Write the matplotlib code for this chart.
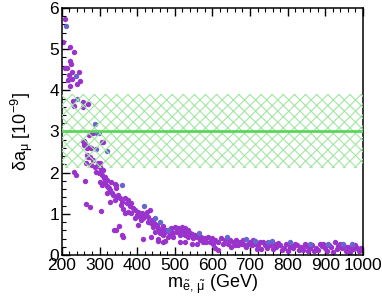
import matplotlib
matplotlib.use("Agg")
import matplotlib.pyplot as plt
from matplotlib.ticker import MultipleLocator

plt.rcParams["font.family"] = ["Liberation Sans", "DejaVu Sans"]
plt.rcParams["mathtext.fontset"] = "custom"
plt.rcParams["mathtext.rm"] = "Liberation Sans"
plt.rcParams["mathtext.it"] = "Liberation Sans"
plt.rcParams["hatch.linewidth"] = 0.8

# scan points (slepton mass in GeV, delta a_mu in 1e-9)
purple_m = [
    207, 202, 221, 232, 221, 225, 207, 214, 228, 246, 218, 228, 216, 249, 240, 221,
    230, 256, 269, 233, 255,
    282, 273, 306, 258, 262, 308, 255, 258, 271, 268, 278,
    267, 274, 270, 284, 297, 301, 278, 289, 301, 305, 264,
    231, 237, 290, 299, 306, 311, 310, 314, 262, 302, 315, 331, 319, 306, 320, 342,
    345, 314, 324, 344, 323, 328, 321, 332, 350, 354, 341, 328, 367, 376, 372, 385,
    264, 276, 305,
    363, 367, 376, 385, 394, 403, 399, 412, 421, 429, 416, 434, 428, 438,
    452, 443, 456, 465, 447, 460, 474, 492, 496, 483,
    338, 344, 352, 359, 363, 403, 416, 438, 456, 474,
    390, 395, 408, 440, 425, 357, 346, 337, 360, 380, 410, 445, 470, 478, 488, 470, 458,
    491, 500, 509, 518, 527, 505, 518, 531, 496, 514, 527, 540, 554, 536, 549, 514,
    527, 571, 580, 589, 598, 567, 576, 584, 593, 607, 616, 602, 558, 545, 560, 545,
    505, 520, 535, 470, 456, 607, 616,
    624, 633, 646, 655, 664, 673, 629, 642, 660, 668, 682, 700, 708, 717, 726, 735,
    744, 686, 704, 722, 740, 650, 690, 718, 730, 745, 695, 712, 678,
    752, 765, 770, 780, 790, 795, 810, 815, 825, 835, 840, 850, 860, 865, 875, 880,
    890, 900, 905, 915, 926, 930, 935, 945, 955, 960, 975, 985, 990, 995, 760, 800,
    820, 845, 870, 895, 920, 940, 965, 980, 775, 785, 830, 855, 885, 910, 950, 970,
    998, 805,
]
purple_da = [
    5.73, 5.17, 5.06, 4.94, 4.72, 4.63, 4.53, 4.53, 4.44, 4.45, 4.36, 4.27, 4.24, 4.23, 4.15, 4.10,
    3.74, 3.71, 3.66, 3.63, 3.60,
    2.96, 2.92, 2.75, 2.78, 2.71, 2.74, 2.77, 2.66, 2.63, 2.60, 2.60,
    2.43, 2.39, 2.39, 2.31, 2.23, 2.23, 2.19, 2.14, 2.14, 2.10, 2.23,
    2.02, 1.94, 2.02, 1.98, 1.94, 1.86, 2.06, 1.90, 1.80, 1.78, 1.78, 1.78, 1.82, 1.70, 1.68, 1.72,
    1.70, 1.74, 1.62, 1.64, 1.66, 1.58, 1.50, 1.50, 1.46, 1.38, 1.34, 1.29, 1.38, 1.34, 1.26, 1.26,
    1.25, 1.17, 1.08,
    1.13, 1.01, 1.05, 1.01, 1.09, 1.05, 0.97, 1.01, 0.97, 0.93, 0.89, 1.09, 0.81, 0.77,
    0.73, 0.69, 0.65, 0.61, 0.57, 0.53, 0.57, 0.57, 0.44, 0.44,
    0.62, 0.61, 0.70, 0.49, 0.44, 0.73, 0.38, 0.43, 0.40, 0.35,
    1.15, 0.90, 0.92, 0.85, 1.05, 1.22, 1.42, 1.45, 1.30, 1.18, 0.85, 0.78, 0.70, 0.62, 0.52, 0.48, 0.62,
    0.65, 0.69, 0.65, 0.69, 0.65, 0.57, 0.57, 0.57, 0.53, 0.49, 0.49, 0.53, 0.49, 0.44, 0.41, 0.32,
    0.32, 0.44, 0.41, 0.44, 0.41, 0.36, 0.32, 0.32, 0.32, 0.36, 0.32, 0.28, 0.28, 0.28, 0.45, 0.50,
    0.62, 0.60, 0.60, 0.32, 0.34, 0.17, 0.12,
    0.41, 0.36, 0.36, 0.32, 0.36, 0.32, 0.28, 0.28, 0.24, 0.24, 0.36, 0.32, 0.36, 0.32, 0.32, 0.32,
    0.30, 0.24, 0.24, 0.24, 0.24, 0.20, 0.20, 0.15, 0.15, 0.16, 0.28, 0.28, 0.28,
    0.24, 0.28, 0.20, 0.24, 0.18, 0.26, 0.22, 0.16, 0.24, 0.20, 0.12, 0.22, 0.16, 0.24, 0.18, 0.12,
    0.22, 0.16, 0.10, 0.20, 0.32, 0.14, 0.22, 0.16, 0.10, 0.20, 0.14, 0.18, 0.10, 0.16, 0.14, 0.10,
    0.28, 0.28, 0.10, 0.26, 0.08, 0.26, 0.08, 0.24, 0.30, 0.12, 0.12, 0.10, 0.28, 0.24, 0.22, 0.18,
    0.12, 0.20,
]
blue_m = [211, 237, 240, 289, 292, 299, 290, 320, 361, 419, 447, 460, 483, 565, 638,
          690, 713, 747, 759, 806, 859, 908, 948, 970]
blue_da = [5.55, 4.35, 3.79, 3.17, 2.96, 2.96, 2.57, 2.52, 1.70, 1.20, 0.89, 0.81, 0.61, 0.53, 0.44,
           0.38, 0.35, 0.32, 0.34, 0.31, 0.27, 0.26, 0.26, 0.27]

# measured deviation band
band_center = 3.02
band_low = 2.12
band_high = 3.92

fig = plt.figure(figsize=(3.82, 3.04), dpi=100)
ax = fig.add_axes([0.162, 0.161, 0.788, 0.813])

ax.scatter(purple_m, purple_da, s=15, color="#9933cc", linewidths=0, zorder=2)
ax.scatter(blue_m, blue_da, s=15, color="#6666cc", linewidths=0, zorder=2)

ax.fill_between([200, 1000], band_low, band_high, facecolor="none",
                edgecolor="#a3e6a3", hatch="xxx", linewidth=0, zorder=3)
ax.axhline(band_center, color="#5bd65b", linewidth=2, zorder=4)

ax.set_xlim(200, 1000)
ax.set_ylim(0, 6)
ax.xaxis.set_major_locator(MultipleLocator(100))
ax.xaxis.set_minor_locator(MultipleLocator(20))
ax.yaxis.set_major_locator(MultipleLocator(1))
ax.yaxis.set_minor_locator(MultipleLocator(0.2))
ax.tick_params(which="both", direction="in", top=True, right=False,
               labelsize=12.5, pad=2)
ax.tick_params(which="major", length=6, width=1)
ax.tick_params(which="minor", length=3, width=0.8)
for sp in ax.spines.values():
    sp.set_linewidth(1.1)

ax.set_xlabel(r"m$_{\tilde{\mathrm{e}},\,\tilde{\mu}}$ (GeV)", fontsize=13, labelpad=0)
ax.set_ylabel(r"$\delta$a$_{\mu}$ [10$^{-9}$]", fontsize=13, labelpad=10)

fig.savefig("out.png", dpi=100)
